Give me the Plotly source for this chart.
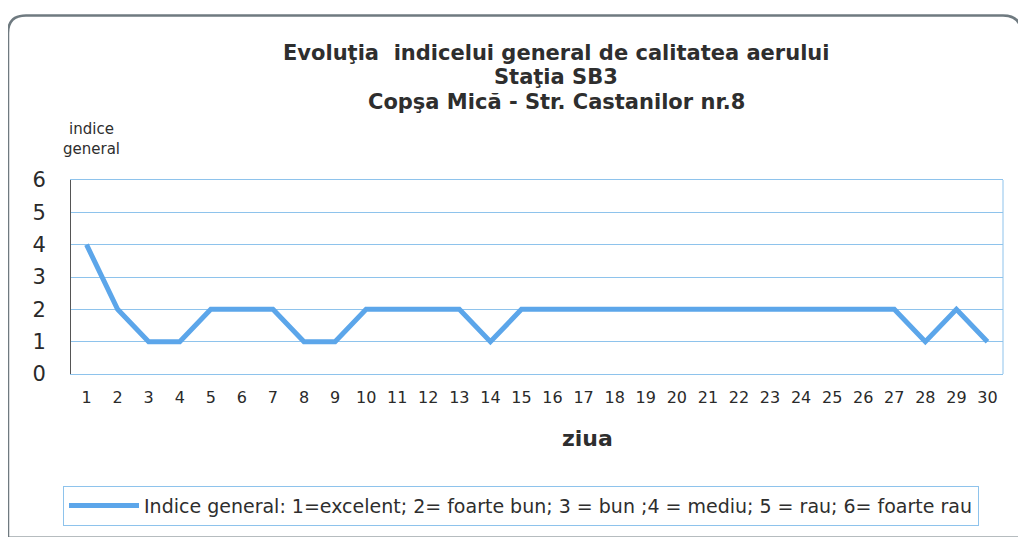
import plotly.graph_objects as go

days = [str(d) for d in range(1, 31)]
indice = [4, 2, 1, 1, 2, 2, 2, 1, 1, 2, 2, 2, 2, 1, 2, 2, 2, 2, 2, 2, 2, 2, 2, 2, 2, 2, 2, 1, 2, 1]
y_ticks = [0, 1, 2, 3, 4, 5, 6]
series_name = "Indice general: 1=excelent; 2= foarte bun; 3 = bun ;4 = mediu; 5 = rau; 6= foarte rau"
title_lines = ["Evoluţia  indicelui general de calitatea aerului", "Staţia SB3", "Copşa Mică - Str. Castanilor nr.8"]
x_title = "ziua"
y_title = "indice<br>general"

OFF = 8  # page body margin
W, H = 1026 - OFF, 537 - OFF
L, T = 71 - OFF, 180 - OFF
pw, ph = 932, 198
R = W - L - pw
B = H - T - ph

def px(x):
    return (x - OFF - L) / pw

def py(y):
    return (T + ph - (y - OFF)) / ph

fig = go.Figure()
fig.add_trace(go.Scatter(
    x=days, y=indice, mode="lines", name=series_name,
    line=dict(color="#5ca6ea", width=5), showlegend=True,
))

# rounded outer border
x0, x1, y0, y1 = px(8), px(1021), py(12), py(545)
rx = 18 / pw
ry = 18 / ph
path = (f"M {x0+rx},{y0} L {x1-rx},{y0} Q {x1},{y0} {x1},{y0-ry} "
        f"L {x1},{y1} L {x0},{y1} L {x0},{y0-ry} Q {x0},{y0} {x0+rx},{y0} Z")
fig.add_shape(type="path", path=path, xref="paper", yref="paper",
              line=dict(color="#6f7a80", width=2.5), layer="below")

tfont = "DejaVu Sans, Verdana, sans-serif"
for txt, yy in zip(title_lines, [50, 75, 100]):
    fig.add_annotation(text=f"<b>{txt}</b>", x=px(556), y=py(yy), xref="paper", yref="paper",
                       showarrow=False, xanchor="center", yanchor="middle",
                       font=dict(family=tfont, size=21, color="#2e2e2e"))
fig.add_annotation(text=y_title, x=px(91), y=py(138), xref="paper", yref="paper",
                   showarrow=False, xanchor="center", yanchor="middle", align="center",
                   font=dict(family=tfont, size=15, color="#2e2e2e"))
fig.add_annotation(text=f"<b>{x_title}</b>", x=px(587), y=py(444), xref="paper", yref="paper",
                   showarrow=False, xanchor="center", yanchor="middle",
                   font=dict(family=tfont, size=22, color="#2e2e2e"))

fig.update_layout(
    width=W, height=H,
    margin=dict(l=L, r=R, t=T, b=B),
    paper_bgcolor="white", plot_bgcolor="white",
    font=dict(family=tfont, color="#2e2e2e"),
    xaxis=dict(type="category", range=[-0.5, 29.5], showgrid=False, automargin=False,
               tickfont=dict(family=tfont, size=16, color="#2a2a2a"), ticks="", ticklabelstandoff=9,
               showline=True, linecolor="#8ec3ec", linewidth=1, mirror=True),
    yaxis=dict(range=[0, 6], tickvals=y_ticks, showgrid=True, gridcolor="#8ec3ec", gridwidth=1,
               automargin=False,
               tickfont=dict(family=tfont, size=21, color="#2a2a2a"), ticks="", ticklabelstandoff=20,
               showline=True, linecolor="#555555", linewidth=1, mirror=False, zeroline=False),
    legend=dict(orientation="h", x=px(63), y=py(492), xanchor="left", yanchor="top",
                bordercolor="#8ec3ec", borderwidth=1, bgcolor="white",
                font=dict(family=tfont, size=19, color="#2e2e2e"), itemwidth=70),
    showlegend=True,
)
fig.add_shape(type="line", xref="paper", yref="paper", x0=1, x1=1, y0=0, y1=1,
              line=dict(color="#8ec3ec", width=1))

fig.write_html("out.html")
